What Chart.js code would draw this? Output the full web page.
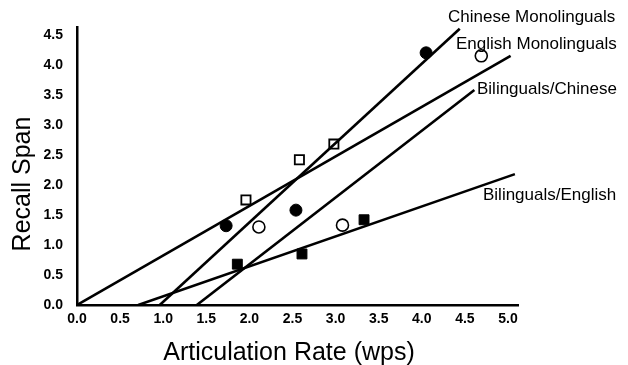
<!DOCTYPE html>
<html>
<head>
<meta charset="utf-8">
<script src="https://cdn.jsdelivr.net/npm/chart.js@4"></script>
<style>
  body { margin: 0; background: #fff; }
</style>
</head>
<body>
<canvas id="myChart" width="628" height="365"></canvas>
<script>
// points (wps, recall span)
let filledCircles = [{x: 1.73, y: 1.32}, {x: 2.54, y: 1.58}, {x: 4.05, y: 4.2}];
let openCircles = [{x: 2.11, y: 1.30}, {x: 3.08, y: 1.33}, {x: 4.69, y: 4.15}];
let openSquares = [{x: 1.96, y: 1.75}, {x: 2.58, y: 2.42}, {x: 2.98, y: 2.68}];
let filledSquares = [{x: 1.86, y: 0.68}, {x: 2.61, y: 0.85}, {x: 3.33, y: 1.42}];

// regression lines, end points
let chineseMonoLine = [{x: 0.96, y: 0}, {x: 4.44, y: 4.6}];
let englishMonoLine = [{x: 0, y: 0}, {x: 5.03, y: 4.15}];
let biChineseLine = [{x: 1.39, y: 0}, {x: 4.61, y: 3.58}];
let biEnglishLine = [{x: 0.71, y: 0}, {x: 5.08, y: 2.18}];

let lineLabels = ['Chinese Monolinguals', 'English Monolinguals', 'Bilinguals/Chinese', 'Bilinguals/English'];
let xTitle = 'Articulation Rate (wps)';
let yTitle = 'Recall Span';

const FONT = '"Liberation Sans", Arial, Helvetica, sans-serif';

// text placed next to the line ends, plus the axis titles
const textPlugin = {
  id: 'textPlugin',
  afterDraw(chart) {
    const c = chart.ctx;
    c.save();
    c.fillStyle = '#000';
    c.font = '17px ' + FONT;
    c.textAlign = 'left';
    c.textBaseline = 'alphabetic';
    let pos = [[448, 22], [456, 49], [477, 94], [483, 200]];
    lineLabels.forEach((t, i) => c.fillText(t, pos[i][0], pos[i][1]));

    c.font = '25px ' + FONT;
    c.textAlign = 'center';
    c.fillText(xTitle, 289, 360);

    c.translate(23, 184);
    c.rotate(-Math.PI / 2);
    c.textBaseline = 'middle';
    c.fillText(yTitle, 0, 0);
    c.restore();
  }
};

function lineSet(data) {
  return {
    data: data,
    showLine: true,
    borderColor: '#000',
    borderWidth: 2.6,
    pointRadius: 0,
    fill: false
  };
}

let ctx1 = document.getElementById('myChart').getContext('2d');
let myChart = new Chart(ctx1, {
  type: 'scatter',
  data: {
    datasets: [
      lineSet(chineseMonoLine),
      lineSet(englishMonoLine),
      lineSet(biChineseLine),
      lineSet(biEnglishLine),
      {
        data: filledCircles,
        pointStyle: 'circle',
        pointRadius: 6,
        backgroundColor: '#000',
        borderColor: '#000',
        borderWidth: 1
      },
      {
        data: openCircles,
        pointStyle: 'circle',
        pointRadius: 6,
        backgroundColor: '#fff',
        borderColor: '#000',
        borderWidth: 1.6
      },
      {
        data: openSquares,
        pointStyle: 'rect',
        pointRadius: 6.5,
        backgroundColor: '#fff',
        borderColor: '#000',
        borderWidth: 1.8
      },
      {
        data: filledSquares,
        pointStyle: 'rect',
        pointRadius: 7,
        backgroundColor: '#000',
        borderColor: '#000',
        borderWidth: 1
      }
    ]
  },
  options: {
    responsive: false,
    animation: false,
    layout: {
      padding: {left: 0, top: 27, right: 110, bottom: 0}
    },
    plugins: {
      legend: {display: false},
      tooltip: {enabled: false}
    },
    scales: {
      x: {
        type: 'linear',
        min: 0,
        max: 5.116,
        afterFit: (scale) => { scale.height = 60; },
        grid: {display: false, drawTicks: false},
        border: {display: true, color: '#000', width: 2.5},
        ticks: {
          stepSize: 0.5,
          includeBounds: false,
          padding: 6,
          color: '#000',
          font: {family: FONT, size: 14, weight: 'bold'},
          callback: (v) => v.toFixed(1)
        }
      },
      y: {
        min: 0,
        max: 4.63,
        afterFit: (scale) => { scale.width = 77; },
        grid: {display: false, drawTicks: false},
        border: {display: true, color: '#000', width: 2.5},
        ticks: {
          stepSize: 0.5,
          includeBounds: false,
          padding: 14,
          color: '#000',
          font: {family: FONT, size: 14, weight: 'bold'},
          callback: (v) => v.toFixed(1)
        }
      }
    }
  },
  plugins: [textPlugin]
});
</script>
</body>
</html>
